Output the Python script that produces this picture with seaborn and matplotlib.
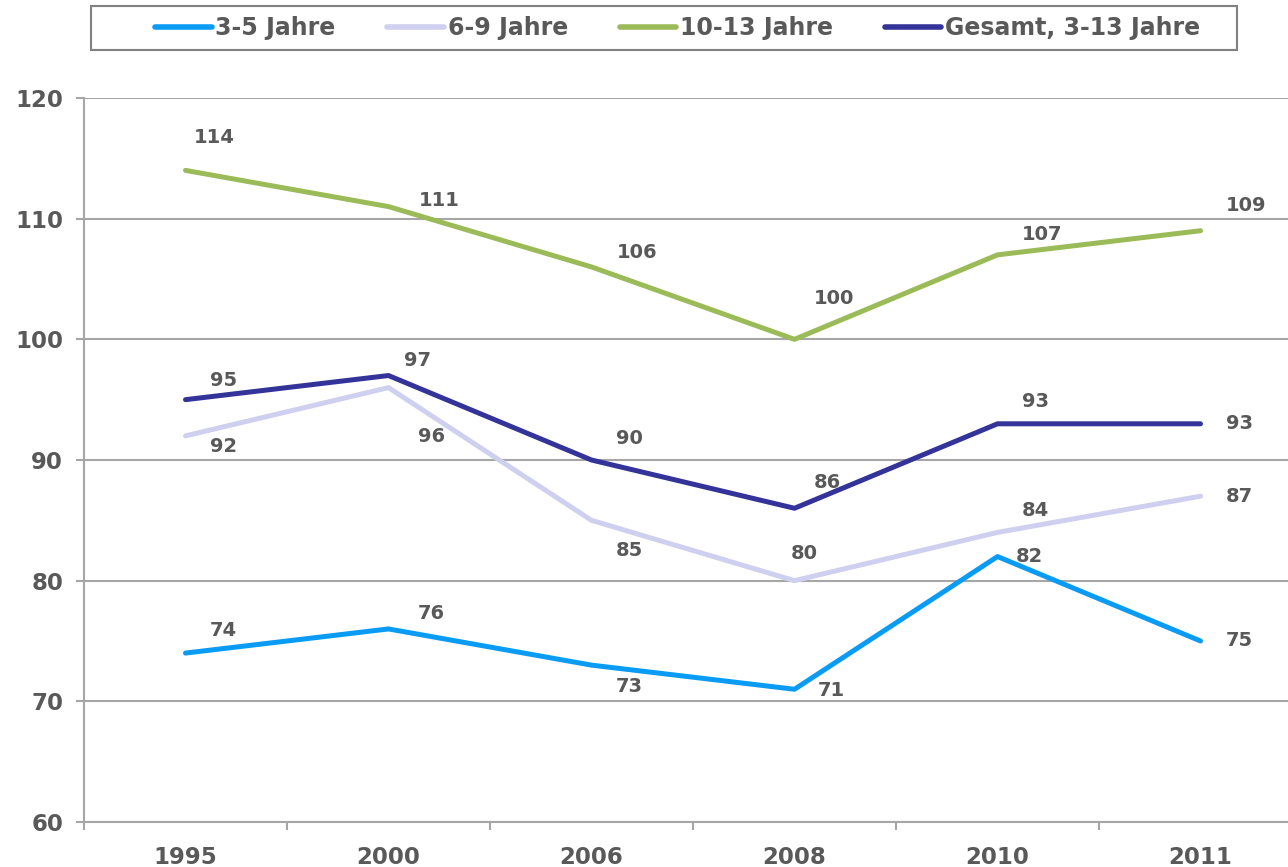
import pandas as pd
import matplotlib
matplotlib.use("Agg")
import matplotlib.pyplot as plt
from matplotlib.patches import Rectangle
import seaborn as sns

# Daten
years = ["1995", "2000", "2006", "2008", "2010", "2011"]
series_names = ["3-5 Jahre", "6-9 Jahre", "10-13 Jahre", "Gesamt, 3-13 Jahre"]
vals_3_5 = [74, 76, 73, 71, 82, 75]
vals_6_9 = [92, 96, 85, 80, 84, 87]
vals_10_13 = [114, 111, 106, 100, 107, 109]
vals_gesamt = [95, 97, 90, 86, 93, 93]

colors = ["#0A9CF5", "#CFCFEF", "#9BBB59", "#343399"]
TEXT = "#595959"
GRID = "#A6A6A6"

# label offsets in pixels (dx, dy), dy positive = upwards
offsets = {
    "3-5 Jahre": [(38, 23), (43, 15), (38, -21), (37, -1), (32, 0), (39, 0)],
    "6-9 Jahre": [(38, -11), (43, -49), (38, -30), (10, 27), (38, 22), (39, 0)],
    "10-13 Jahre": [(29, 33), (51, 6), (46, 14), (40, 41), (45, 20), (46, 25)],
    "Gesamt, 3-13 Jahre": [(38, 19), (29, 15), (38, 22), (33, 26), (38, 22), (39, 0)],
}

all_vals = [vals_3_5, vals_6_9, vals_10_13, vals_gesamt]
df = pd.concat(
    [pd.DataFrame({"Jahr": years, "Wert": v, "Gruppe": n}) for n, v in zip(series_names, all_vals)],
    ignore_index=True,
)

sns.set_style("white")
plt.rcParams["font.family"] = ["DejaVu Sans"]

W, H = 1288, 867
fig = plt.figure(figsize=(W / 100, H / 100), dpi=100)
ax = fig.add_axes([84 / W, 45 / H, 1218 / W, 724 / H])

sns.lineplot(
    data=df, x="Jahr", y="Wert", hue="Gruppe", hue_order=series_names,
    palette=colors, linewidth=3.6, sort=False, ax=ax, legend=False, zorder=3,
)

# data labels
for name, vals in zip(series_names, all_vals):
    for i, v in enumerate(vals):
        dx, dy = offsets[name][i]
        ax.annotate(str(v), (i, v), xytext=(dx, dy), textcoords="offset pixels",
                    ha="center", va="center", fontsize=14, fontweight="bold",
                    color=TEXT, zorder=5)

ax.set_xlim(-0.5, 5.5)
ax.set_ylim(60, 120)
ax.set_yticks(range(60, 121, 10))
ax.yaxis.grid(True, color=GRID, linewidth=1.5)
ax.set_axisbelow(True)

# ticks between categories, labels at centers
ax.set_xticks([i - 0.5 for i in range(len(years) + 1)])
ax.set_xticklabels([])
ax.set_xticks(range(len(years)), minor=True)
ax.set_xticklabels(years, minor=True)
ax.tick_params(axis="x", which="major", length=6, width=1.5, color=GRID, direction="out", bottom=True)
ax.tick_params(axis="x", which="minor", length=0, pad=17, labelsize=16.5, labelcolor=TEXT)
ax.tick_params(axis="y", length=6, width=1.5, color=GRID, direction="out", left=True,
               pad=9, labelsize=16.5, labelcolor=TEXT)
for lab in ax.get_xticklabels(minor=True) + ax.get_yticklabels():
    lab.set_fontweight("bold")

ax.set_xlabel("")
ax.set_ylabel("")
for s in ["top", "right"]:
    ax.spines[s].set_visible(False)
for s in ["left", "bottom"]:
    ax.spines[s].set_color(GRID)
    ax.spines[s].set_linewidth(1.5)

# legend: entries spread between 155 and 1200 px, frame drawn separately
handles = [plt.Line2D([], [], color=c, linewidth=4, solid_capstyle="round") for c in colors]
leg = fig.legend(handles, series_names, loc="center",
                 bbox_to_anchor=(155 / W, 1 - 50 / H, 1045 / W, 44 / H),
                 mode="expand", ncol=4, frameon=False,
                 handlelength=2.4, handletextpad=0.15, borderpad=0, borderaxespad=0,
                 prop={"size": 17, "weight": "bold"})
for t in leg.get_texts():
    t.set_color(TEXT)
fig.patches.append(Rectangle((91 / W, 1 - 50 / H), 1146 / W, 44 / H, transform=fig.transFigure,
                             fill=False, edgecolor="#808080", linewidth=1.5))

fig.savefig("out.png", dpi=100)
